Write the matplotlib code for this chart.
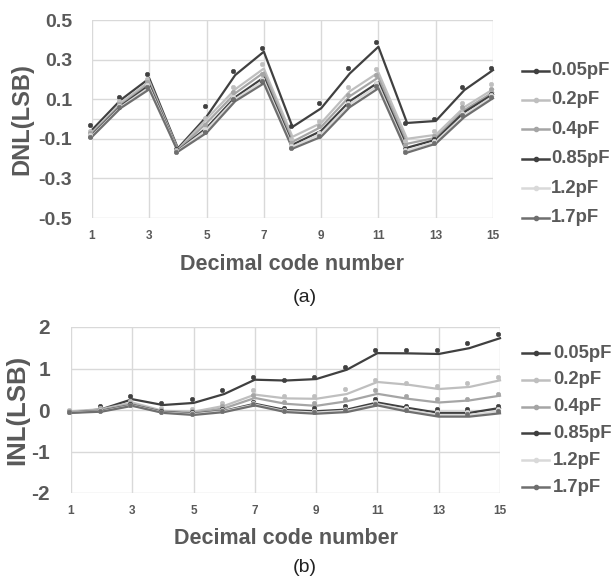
import matplotlib
matplotlib.use("Agg")
import matplotlib.pyplot as plt
import matplotlib.transforms as mtransforms
from matplotlib.lines import Line2D

plt.rcParams['font.family'] = ['Liberation Sans', 'DejaVu Sans']

codes = list(range(1, 16))
labels = ["0.05pF", "0.2pF", "0.4pF", "0.85pF", "1.2pF", "1.7pF"]
colors = ["#404040", "#bfbfbf", "#a5a5a5", "#404040", "#d9d9d9", "#6f6f6f"]

# DNL: trend lines and measured dots
dnl_line_005 = [-0.055, 0.096, 0.205, -0.148, 0.012, 0.222, 0.34, -0.04, 0.054, 0.23, 0.365, -0.02, -0.01, 0.146, 0.247]
dnl_dot_005 = [-0.032, 0.11, 0.226, -0.15, 0.066, 0.244, 0.357, -0.035, 0.082, 0.259, 0.387, -0.019, 0.0, 0.162, 0.259]
dnl_line_02 = [-0.07, 0.08, 0.19, -0.155, 0.0, 0.15, 0.255, -0.09, -0.02, 0.14, 0.235, -0.1, -0.08, 0.06, 0.15]
dnl_dot_02 = [-0.06, 0.09, 0.2, -0.155, 0.005, 0.163, 0.278, -0.1, -0.01, 0.162, 0.255, -0.11, -0.06, 0.08, 0.178]
dnl_line_04 = [-0.075, 0.07, 0.18, -0.158, -0.02, 0.13, 0.235, -0.115, -0.04, 0.115, 0.21, -0.125, -0.095, 0.045, 0.135]
dnl_dot_04 = [-0.07, 0.075, 0.185, -0.158, -0.03, 0.138, 0.226, -0.12, -0.035, 0.12, 0.22, -0.13, -0.085, 0.06, 0.15]
dnl_line_085 = [-0.08, 0.065, 0.17, -0.16, -0.045, 0.11, 0.21, -0.13, -0.06, 0.09, 0.185, -0.145, -0.105, 0.035, 0.125]
dnl_dot_085 = [-0.085, 0.06, 0.165, -0.16, -0.06, 0.1, 0.19, -0.14, -0.07, 0.09, 0.175, -0.15, -0.1, 0.03, 0.125]
dnl_line_12 = [-0.085, 0.06, 0.16, -0.162, -0.055, 0.1, 0.195, -0.14, -0.075, 0.075, 0.17, -0.16, -0.115, 0.02, 0.115]
dnl_dot_12 = [-0.08, 0.065, 0.17, -0.16, -0.05, 0.11, 0.2, -0.135, -0.07, 0.08, 0.18, -0.155, -0.11, 0.03, 0.12]
dnl_line_17 = [-0.09, 0.055, 0.15, -0.165, -0.07, 0.09, 0.18, -0.15, -0.09, 0.06, 0.155, -0.17, -0.125, 0.01, 0.105]
dnl_dot_17 = [-0.09, 0.06, 0.16, -0.165, -0.066, 0.1, 0.19, -0.145, -0.085, 0.07, 0.165, -0.165, -0.12, 0.02, 0.11]

# INL: trend lines and measured dots
inl_line_005 = [-0.06, 0.02, 0.26, 0.12, 0.17, 0.385, 0.73, 0.71, 0.745, 0.97, 1.37, 1.365, 1.35, 1.49, 1.73]
inl_dot_005 = [-0.03, 0.09, 0.34, 0.17, 0.26, 0.49, 0.80, 0.73, 0.795, 1.035, 1.44, 1.44, 1.44, 1.61, 1.84]
inl_line_02 = [-0.03, 0.02, 0.18, -0.02, -0.04, 0.1, 0.37, 0.28, 0.27, 0.385, 0.675, 0.61, 0.505, 0.555, 0.715]
inl_dot_02 = [0.0, 0.05, 0.22, 0.05, 0.02, 0.18, 0.49, 0.33, 0.33, 0.505, 0.73, 0.65, 0.57, 0.65, 0.795]
inl_line_04 = [-0.05, 0.0, 0.14, -0.04, -0.07, 0.04, 0.29, 0.15, 0.1, 0.21, 0.39, 0.27, 0.18, 0.23, 0.345]
inl_dot_04 = [-0.03, 0.02, 0.18, 0.0, -0.02, 0.1, 0.35, 0.2, 0.17, 0.26, 0.49, 0.33, 0.26, 0.26, 0.385]
inl_line_085 = [-0.06, -0.02, 0.12, -0.05, -0.09, -0.02, 0.15, 0.0, -0.03, 0.01, 0.18, 0.05, -0.07, -0.07, 0.05]
inl_dot_085 = [-0.05, 0.0, 0.15, -0.02, -0.05, 0.02, 0.2, 0.05, 0.05, 0.1, 0.26, 0.1, 0.02, 0.02, 0.1]
inl_line_12 = [-0.06, -0.03, 0.11, -0.06, -0.1, -0.03, 0.13, -0.03, -0.06, -0.02, 0.14, 0.0, -0.12, -0.12, -0.03]
inl_dot_12 = [-0.04, -0.01, 0.13, -0.04, -0.07, 0.0, 0.17, 0.0, -0.02, 0.02, 0.2, 0.04, -0.04, -0.05, 0.03]
inl_line_17 = [-0.07, -0.04, 0.1, -0.07, -0.12, -0.05, 0.11, -0.05, -0.09, -0.05, 0.11, -0.04, -0.16, -0.16, -0.08]
inl_dot_17 = [-0.05, -0.02, 0.12, -0.05, -0.09, -0.02, 0.15, -0.02, -0.05, 0.0, 0.15, 0.0, -0.1, -0.1, -0.03]

dnl_lines = [dnl_line_005, dnl_line_02, dnl_line_04, dnl_line_085, dnl_line_12, dnl_line_17]
dnl_dots = [dnl_dot_005, dnl_dot_02, dnl_dot_04, dnl_dot_085, dnl_dot_12, dnl_dot_17]
inl_lines = [inl_line_005, inl_line_02, inl_line_04, inl_line_085, inl_line_12, inl_line_17]
inl_dots = [inl_dot_005, inl_dot_02, inl_dot_04, inl_dot_085, inl_dot_12, inl_dot_17]

xticks = [1, 3, 5, 7, 9, 11, 13, 15]
dnl_yticks = [-0.5, -0.3, -0.1, 0.1, 0.3, 0.5]
inl_yticks = [-2, -1, 0, 1, 2]

W, H = 612, 581
fig = plt.figure(figsize=(W / 100, H / 100), dpi=100)
txt = "#595959"
grid_c = "#d9d9d9"

def px_axes(l, t, r, b):
    return fig.add_axes([l / W, 1 - b / H, (r - l) / W, (b - t) / H])

def style(ax, yticks, ylim, yfmt, ylabel, tick_fs, ypad, ylabel_fs, ylabel_x, xlabelpad):
    ax.set_xlim(1, 15)
    ax.set_ylim(*ylim)
    ax.set_xticks(xticks)
    ax.set_yticks(yticks)
    ax.set_yticklabels([yfmt(v) for v in yticks])
    for s in ax.spines.values():
        s.set_visible(False)
    ax.grid(True, color=grid_c, linewidth=1.0)
    ax.set_axisbelow(True)
    ax.tick_params(length=0)
    ax.tick_params(axis='x', pad=8.5)
    ax.tick_params(axis='y', pad=ypad)
    for lb in ax.get_xticklabels():
        lb.set_fontsize(8.5); lb.set_fontweight('bold'); lb.set_color(txt)
    for lb in ax.get_yticklabels():
        lb.set_fontsize(tick_fs); lb.set_fontweight('bold'); lb.set_color(txt)
    ax.set_ylabel(ylabel, fontsize=ylabel_fs, fontweight='bold', color=txt)
    ax.yaxis.set_label_coords(ylabel_x, 0.5)
    ax.set_xlabel("Decimal code number", fontsize=15.5, fontweight='bold', color=txt,
                  labelpad=xlabelpad)

def draw(ax, lines, dots, zorders):
    off = mtransforms.ScaledTranslation(-2 / 100, 0, fig.dpi_scale_trans)
    for i in zorders:
        ax.plot(codes, lines[i], color=colors[i], linewidth=1.6, zorder=3 + i * 0.1, clip_on=False)
        ax.plot(codes, dots[i], linestyle='none', marker='o', markersize=3.2, markeredgewidth=0.4,
                color=colors[i], zorder=4 + i * 0.1, clip_on=False,
                transform=ax.transData + off)

def legend(y0, dy, x_line0, x_line1, x_text):
    for i, lab in enumerate(labels):
        y = y0 + i * dy
        fig.add_artist(Line2D([x_line0 / W, x_line1 / W], [1 - y / H, 1 - y / H],
                              color=colors[i], linewidth=1.8))
        fig.add_artist(Line2D([(x_line0 + x_line1) / 2 / W], [1 - y / H], marker='o',
                              markersize=3, color=colors[i], linestyle='none'))
        fig.text(x_text / W, 1 - y / H, lab, fontsize=13.3, fontweight='bold', color=txt,
                 va='center', ha='left')

order = [4, 1, 2, 5, 3, 0]

ax1 = px_axes(92, 20, 493, 218)
style(ax1, dnl_yticks, (-0.5, 0.5), lambda v: f"{v:.1f}", "DNL(LSB)", 14, 14.4, 17,
      (33 - 92) / 401, 9)
ax1.axhline(0, color=grid_c, linewidth=1.0, zorder=1)
draw(ax1, dnl_lines, dnl_dots, order)
legend(70.5, 29.4, 522, 549, 551)
fig.text(305 / W, 1 - 297 / H, "(a)", fontsize=14, color="#222222", ha='center', va='center')

ax2 = px_axes(71, 327, 500, 493)
style(ax2, inl_yticks, (-2, 2), lambda v: f"{v:d}", "INL(LSB)", 15, 15, 18.5,
      (29 - 71) / 429, 8)
draw(ax2, inl_lines, inl_dots, order)
legend(353, 26.8, 522, 549, 553)
fig.text(305 / W, 1 - 568 / H, "(b)", fontsize=14, color="#222222", ha='center', va='center')

fig.savefig("out.png", dpi=100)
